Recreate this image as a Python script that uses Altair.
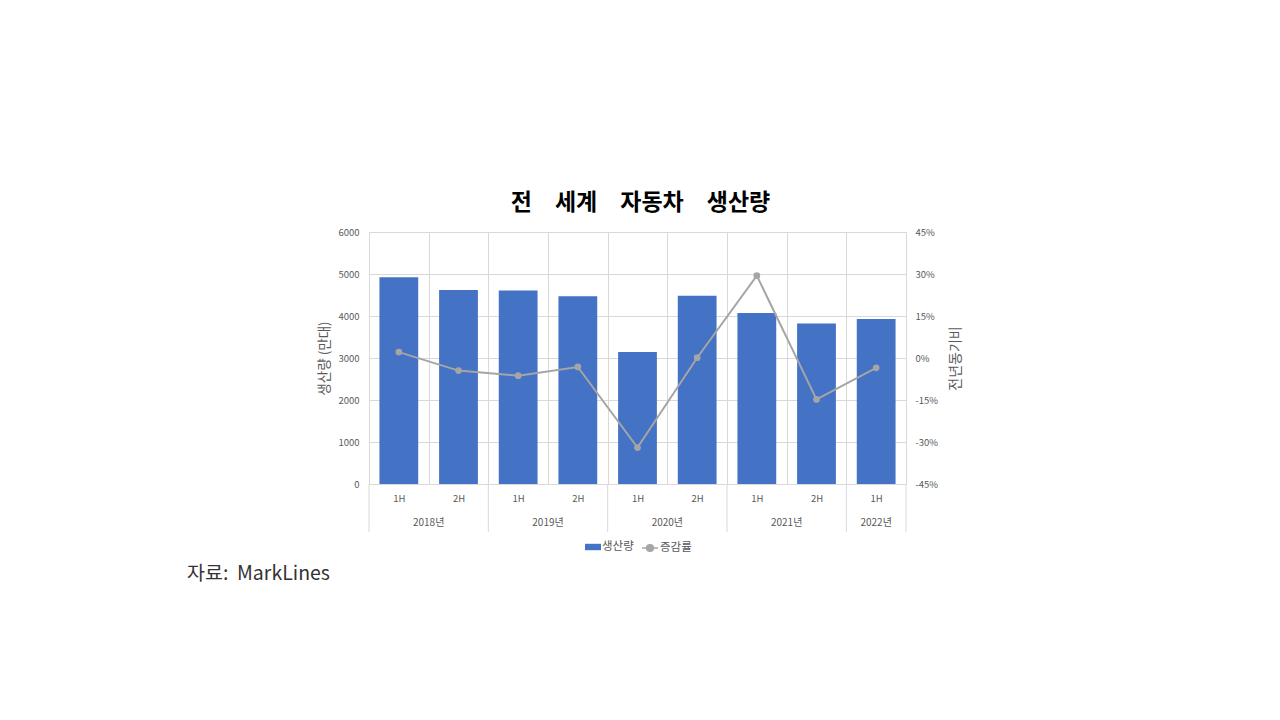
import altair as alt
import pandas as pd

# ---- data ----
years = ["2018년", "2018년", "2019년", "2019년", "2020년", "2020년", "2021년", "2021년", "2022년"]
halves = ["1H", "2H", "1H", "2H", "1H", "2H", "1H", "2H", "1H"]
production = [4920, 4620, 4610, 4470, 3140, 4480, 4070, 3820, 3930]   # 만대
yoy_change = [0.021, -0.045, -0.063, -0.032, -0.320, 0.001, 0.294, -0.148, -0.035]

title_text = "전\u3000세계\u3000자동차\u3000생산량"
source_text = "자료:\u00a0\u00a0MarkLines"
bar_series = "생산량"
line_series = "증감률"

FONT = "Noto Sans CJK KR"
BLUE = "#4472C4"
GRAY = "#A5A5A5"
GRID = "#D9D9D9"
LABEL = "#595959"

periods = [f"{y} {h}" for y, h in zip(years, halves)]
df = pd.DataFrame({
    "기간": periods,
    "연도": years,
    "반기": halves,
    "생산량": production,
    "증감률": yoy_change,
    "계열": [bar_series] * len(periods),
    "계열2": [line_series] * len(periods),
})

# year groups (first period of each year, number of halves)
year_order = list(dict.fromkeys(years))
year_first = [periods[years.index(y)] for y in year_order]
year_count = [years.count(y) for y in year_order]
df_year = pd.DataFrame({"기간": year_first, "연도": year_order, "n": year_count})
df_year_full = df_year[df_year["n"] == 2]
df_year_half = df_year[df_year["n"] == 1]
df_end = pd.DataFrame({"기간": [periods[-1]]})

W, H = 537, 252

x_scale = alt.Scale(domain=periods, paddingInner=0, paddingOuter=0)
x_axis = alt.Axis(
    title=None, grid=True, gridColor=GRID, tickBand="extent", ticks=False,
    domain=False, labelAngle=0, labelExpr="split(datum.value, ' ')[1]",
    labelFont=FONT, labelFontSize=9.5, labelColor=LABEL, labelPadding=9,
)


def xenc(bp=None):
    if bp is None:
        return alt.X("기간:N", sort=None, scale=x_scale, axis=x_axis)
    return alt.X("기간:N", sort=None, scale=x_scale, axis=x_axis, bandPosition=bp)


bars = alt.Chart(df).mark_bar(width=alt.RelativeBandSize(0.65)).encode(
    x=xenc(),
    y=alt.Y("생산량:Q", scale=alt.Scale(domain=[0, 6000], nice=False),
            axis=alt.Axis(values=[0, 1000, 2000, 3000, 4000, 5000, 6000], format="d",
                          title="생산량 (만대)", titleFont=FONT, titleFontSize=13.5,
                          titleFontWeight="normal", titleColor=LABEL, titlePadding=6,
                          grid=True, gridColor=GRID, ticks=False, domain=False,
                          labelFont=FONT, labelFontSize=9.5, labelColor=LABEL,
                          labelPadding=10)),
    fill=alt.Fill("계열:N", scale=alt.Scale(domain=[bar_series], range=[BLUE]),
                  legend=alt.Legend(orient="none", legendX=216, legendY=307, title=None,
                                    symbolType="M-1,-0.4H1V0.4H-1Z", symbolSize=256,
                                    symbolStrokeWidth=0, labelFont=FONT, labelFontSize=11.5,
                                    labelColor=LABEL, labelOffset=1, padding=0)),
)

year_rules_start = alt.Chart(df_year).mark_rule(color=GRID, strokeWidth=1).encode(
    x=xenc(0), y=alt.value(H), y2=alt.value(H + 48))
year_rules_end = alt.Chart(df_end).mark_rule(color=GRID, strokeWidth=1).encode(
    x=xenc(1), y=alt.value(H), y2=alt.value(H + 48))

year_text_full = alt.Chart(df_year_full).mark_text(
    font=FONT, fontSize=10, color=LABEL, baseline="middle").encode(
    x=xenc(1), y=alt.value(H + 39), text="연도:N")
year_text_half = alt.Chart(df_year_half).mark_text(
    font=FONT, fontSize=10, color=LABEL, baseline="middle").encode(
    x=xenc(0.5), y=alt.value(H + 39), text="연도:N")

source = alt.Chart(pd.DataFrame({"t": [source_text]})).mark_text(
    font=FONT, fontSize=19.5, color="#333333", align="left", baseline="middle").encode(
    x=alt.value(187 - 369), y=alt.value(574 - 232), text="t:N")

y_right = alt.Scale(domain=[-0.45, 0.45], nice=False)

line = alt.Chart(df).mark_line(strokeWidth=2).encode(
    x=xenc(),
    y=alt.Y("증감률:Q", scale=y_right,
            axis=alt.Axis(orient="right", values=[-0.45, -0.3, -0.15, 0, 0.15, 0.3, 0.45],
                          labelExpr="round(datum.value * 100) + '%'",
                          title="전년동기비", titleFont=FONT, titleFontSize=14,
                          titleFontWeight="normal", titleColor=LABEL, titleAngle=270,
                          titlePadding=25, grid=False, ticks=False, domain=False,
                          labelFont=FONT, labelFontSize=9.5, labelColor=LABEL,
                          labelPadding=9)),
    stroke=alt.Stroke("계열2:N", scale=alt.Scale(domain=[line_series], range=[GRAY]),
                      legend=alt.Legend(orient="none", legendX=272, legendY=307, title=None,
                                        symbolType="M-1,0H1M-0.42,0A0.42,0.42,0,1,1,0.42,0A0.42,0.42,0,1,1,-0.42,0",
                                        symbolSize=256, symbolStrokeWidth=1.5,
                                        symbolFillColor=GRAY, labelFont=FONT,
                                        labelFontSize=11.5, labelColor=LABEL,
                                        labelOffset=1, padding=0)),
)

points = alt.Chart(df).mark_point(filled=True, size=45, color=GRAY, opacity=1).encode(
    x=xenc(),
    y=alt.Y("증감률:Q", scale=y_right),
)

left = alt.layer(bars, year_rules_start, year_rules_end, year_text_full, year_text_half, source)
right = alt.layer(line, points)

chart = alt.layer(left, right).resolve_scale(
    y="independent", fill="independent", stroke="independent"
).properties(
    width=W, height=H,
    autosize=alt.AutoSizeParams(type="none"),
    padding={"left": 361, "top": 224, "right": 300, "bottom": 170},
    title=alt.TitleParams(title_text, font=FONT, fontSize=23, fontWeight="bold",
                          color="#000000", anchor="middle", offset=12, dx=3),
).configure_view(stroke=None).configure(background="white")

chart.save("out.html", embed_options={"renderer": "svg", "actions": False})
